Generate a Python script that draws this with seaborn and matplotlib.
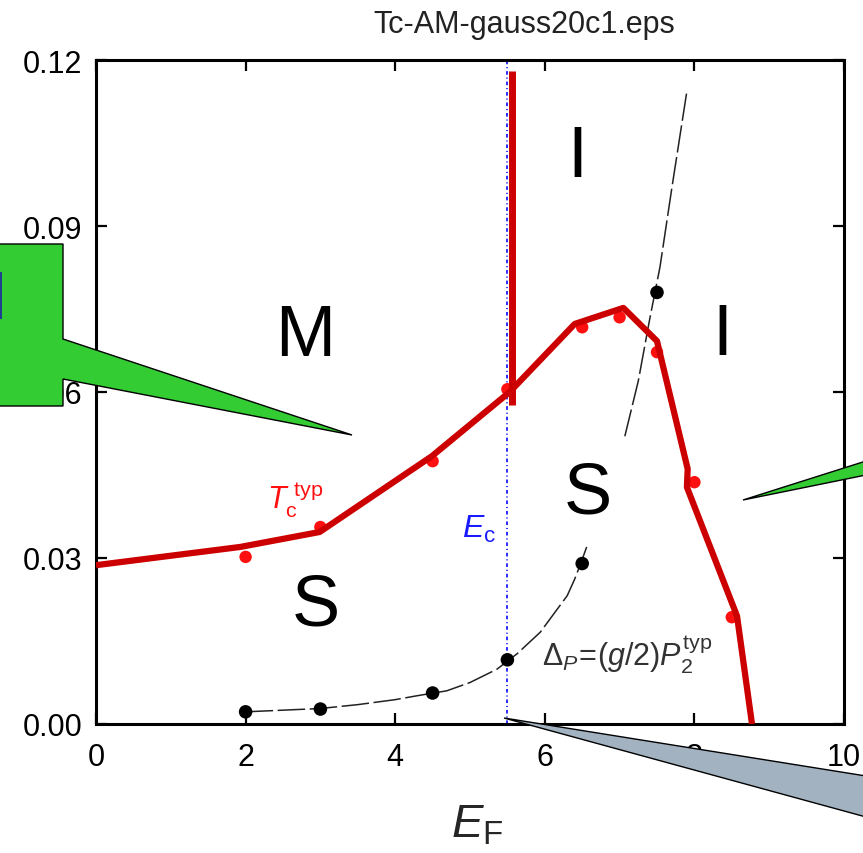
import numpy as np
import pandas as pd
import matplotlib
matplotlib.use("Agg")
import matplotlib.pyplot as plt
import seaborn as sns
from matplotlib.patches import Polygon, Rectangle

# --- data -------------------------------------------------------------
# typical critical temperature T_c^typ (points) and the guide line through them
tc_x = [2.0, 3.0, 4.5, 5.5, 6.5, 7.0, 7.5, 8.0, 8.5]
tc_y = [0.0302, 0.0356, 0.0475, 0.0605, 0.0717, 0.0735, 0.0672, 0.0437, 0.0193]

tc_line_x = [0.0, 1.93, 2.99, 4.49, 5.53, 6.40, 7.05, 7.50, 7.91, np.nan, 7.90, 8.57, 8.77]
tc_line_y = [0.0287, 0.0320, 0.0347, 0.0484, 0.0600, 0.0723, 0.0752, 0.0692, 0.0461, np.nan,
             0.0428, 0.0195, 0.0]

# pairing gap Delta_P = (g/2) P_2^typ and its fitted curve
dp_x = [2.0, 3.0, 4.5, 5.5, 6.5, 7.5]
dp_y = [0.0022, 0.0027, 0.0056, 0.0116, 0.0290, 0.0780]

dp_fit_x = [2.0, 2.5, 3.0, 3.5, 4.0, 4.29, 4.69, 5.0, 5.36, 5.63, 5.94, 6.30, 6.40, 6.48, 6.56,
            np.nan, 7.07, 7.25, 7.40, 7.54, 7.70, 7.90]
dp_fit_y = [0.0022, 0.0025, 0.0028, 0.0035, 0.0044, 0.0051, 0.0060, 0.0075, 0.0099, 0.0127,
            0.0166, 0.0232, 0.0262, 0.0290, 0.0320,
            np.nan, 0.0520, 0.0620, 0.0730, 0.0826, 0.0970, 0.1144]

# mobility edge E_c and the metal / insulator boundary above T_c
ec_x = 5.5
mi_x = [5.56, 5.56]
mi_y = [0.0577, 0.1180]

x_ticks = [0, 2, 4, 6, 8, 10]
y_ticks = [0.00, 0.03, 0.06, 0.09, 0.12]
y_tick_labels = ["0.00", "0.03", "0.06", "0.09", "0.12"]

# phase labels: (text, x, y)
phase_labels = [("M", 2.79, 0.0700), ("I", 6.43, 0.1023), ("I", 8.37, 0.0703),
                ("S", 6.58, 0.0416), ("S", 2.94, 0.0213)]

# --- style ------------------------------------------------------------
sns.set_theme(style="ticks")
plt.rcParams["font.family"] = ["Liberation Sans", "DejaVu Sans"]
plt.rcParams["mathtext.fontset"] = "custom"
plt.rcParams["mathtext.rm"] = "Liberation Sans"
plt.rcParams["mathtext.it"] = "Liberation Sans:italic"
plt.rcParams["mathtext.bf"] = "Liberation Sans:bold"

W, H = 863, 854
fig = plt.figure(figsize=(W / 100, H / 100), dpi=100)
ax = fig.add_axes([96 / W, 1 - 725 / H, (844 - 96) / W, (725 - 61) / H])

RED = "#cc0000"

# mobility edge
ax.axvline(ec_x, color="#1a1aff", lw=1.3, ls=(0, (2.0, 1.6, 0.6, 1.6)), zorder=2)

# fitted Delta_P curve
ax.plot(dp_fit_x, dp_fit_y, color="#222222", lw=1.1, dashes=(18, 3), zorder=2)

# T_c line and metal/insulator boundary
sns.lineplot(x=tc_line_x, y=tc_line_y, ax=ax, color=RED, lw=4.5, sort=False,
             estimator=None, zorder=4)
ax.lines[-1].set_solid_capstyle("butt")
ax.plot(mi_x, mi_y, color=RED, lw=5, solid_capstyle="butt", zorder=4)

# data points
sns.scatterplot(x=tc_x, y=tc_y, ax=ax, color="#ff1010", s=80, edgecolor="none", zorder=3)
sns.scatterplot(x=dp_x, y=dp_y, ax=ax, color="black", s=95, edgecolor="none", zorder=5)

# axes
ax.set_xlim(0, 10)
ax.set_ylim(0, 0.12)
ax.set_xticks(x_ticks)
ax.set_yticks(y_ticks)
ax.set_yticklabels(y_tick_labels)
ax.tick_params(direction="in", length=8, width=1.6, top=True, right=True,
               labelsize=22, colors="black")
ax.tick_params(axis="x", pad=13)
ax.tick_params(axis="y", pad=10)
for sp in ax.spines.values():
    sp.set_visible(True)
    sp.set_linewidth(2.2)
    sp.set_color("black")
ax.set_xlabel(r"$E_{\rm F}$", fontsize=34)
ax.xaxis.set_label_coords(0.51, -0.118)

# region labels
for txt, x, y in phase_labels:
    ax.text(x, y, txt, fontsize=52, ha="center", va="center", color="black", zorder=6)

ax.text(2.29, 0.0389, r"$T_{\rm c}^{\ \rm typ}$", fontsize=22, color="#ff1010",
        ha="left", va="baseline", zorder=6)
ax.text(4.89, 0.0338, r"$E_{\rm c}$", fontsize=23, color="#1a1aff",
        ha="left", va="baseline", zorder=6)
ax.text(5.96, 0.0108, r"$\Delta_P\!=\!(g/2)P_2^{\rm typ}$", fontsize=22, color="#333333",
        ha="left", va="baseline", zorder=6)

fig.text(524 / W, 1 - 25 / H, "Tc-AM-gauss20c1.eps", fontsize=22, ha="center",
         va="center", color="#222222")


# callout shapes laid over the figure (pixel coordinates from the top-left corner)
def fig_poly(pts, face):
    xy = [(px / W, 1 - py / H) for px, py in pts]
    fig.add_artist(Polygon(xy, closed=True, facecolor=face, edgecolor="black",
                           lw=1.0, transform=fig.transFigure, zorder=10))


fig_poly([(-2, 245), (63, 245), (63, 340), (352, 436), (63, 380), (63, 407), (-2, 407)], "#33cc33")
fig_poly([(866, 462), (743, 501), (866, 476)], "#33cc33")
fig_poly([(504, 719), (866, 777), (866, 818)], "#a3b2c1")
fig.add_artist(Rectangle((0, 1 - 320 / H), 1.5 / W, 47 / H, facecolor="#1f3f8f",
                         edgecolor="none", transform=fig.transFigure, zorder=11))

fig.savefig("out.png", dpi=100)
